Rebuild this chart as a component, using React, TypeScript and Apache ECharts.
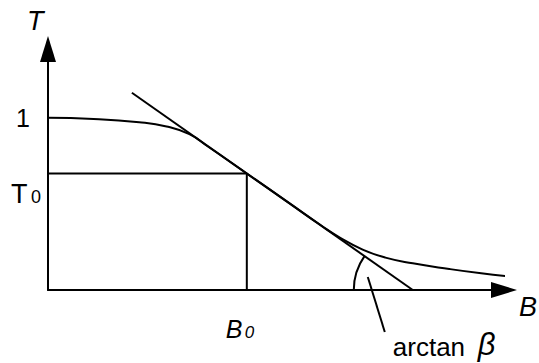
import React, { useEffect, useRef } from "react";
import * as echarts from "echarts";

// Transmission curve T(B), read along the B axis
const curveB = [0, 1.0, 2.0, 2.6, 3.1, 3.5, 4.36, 5.3, 6.0, 6.4, 6.9, 7.4, 8.0, 8.8, 9.5, 10.3];
const curveT = [1.0, 0.994, 0.975, 0.95, 0.905, 0.835, 0.677, 0.503, 0.373, 0.305, 0.235, 0.188, 0.155, 0.122, 0.097, 0.073];

// Operating point and the slope of the tangent drawn through it
const B0 = 4.36;
const T0 = 0.677;
const beta = 0.186;
const tangentStartB = 1.84;

const yTickValues = [1];

const FONT = "'Liberation Sans', Arial, Helvetica, sans-serif";
const INK = "#000";

export default function App() {
  const ref = useRef<HTMLDivElement>(null);

  useEffect(() => {
    if (!ref.current) return;
    const chart = echarts.init(ref.current, null, { renderer: "svg" });

    const curve = curveB.map((b, i) => [b, curveT[i]]);
    const tangentEndB = B0 + T0 / beta;
    const tangent = [
      [tangentStartB, T0 + beta * (B0 - tangentStartB)],
      [tangentEndB, 0],
    ];
    const guide = [
      [0, T0],
      [B0, T0],
      [B0, 0],
    ];

    const axisLine = {
      show: true,
      onZero: false,
      symbol: ["none", "triangle"],
      symbolSize: [16, 26],
      lineStyle: { color: INK, width: 2 },
    };

    chart.setOption({
      animation: false,
      backgroundColor: "#fff",
      grid: { left: 48, top: 49, right: 35, bottom: 73, containLabel: false, outerBoundsMode: "none" },
      xAxis: {
        type: "value",
        min: 0,
        max: 10,
        axisLine,
        axisTick: { show: false },
        axisLabel: { show: false },
        splitLine: { show: false },
      },
      yAxis: {
        type: "value",
        min: 0,
        max: 1.4,
        axisLine,
        axisTick: { show: false },
        axisLabel: {
          show: true,
          customValues: yTickValues,
          formatter: (v: number) => String(v),
          margin: 18,
          fontSize: 25,
          fontFamily: FONT,
          color: INK,
        },
        splitLine: { show: false },
      },
      series: [
        {
          type: "line",
          data: curve,
          showSymbol: false,
          smooth: 0.5,
          clip: false,
          lineStyle: { color: INK, width: 2 },
        },
        {
          type: "line",
          data: tangent,
          showSymbol: false,
          clip: false,
          lineStyle: { color: INK, width: 2 },
        },
        {
          type: "line",
          data: guide,
          showSymbol: false,
          clip: false,
          lineStyle: { color: INK, width: 2 },
        },
      ],
    });

    // Annotations placed from the axes' own pixel mapping
    const px = (b: number, t: number) => chart.convertToPixel({ gridIndex: 0 }, [b, t]) as number[];
    const origin = px(0, 0);
    const op = px(B0, T0);
    const tStart = px(tangent[0][0], tangent[0][1]);
    const tEnd = px(tangent[1][0], tangent[1][1]);
    const xEnd = px(10, 0);
    const angle = Math.atan2(tStart[1] - tEnd[1], tStart[0] - tEnd[0]);
    const arcR = 59;

    const text = (x: number, y: number, s: string, size: number, italic = false) => ({
      type: "text",
      x,
      y,
      silent: true,
      style: {
        text: s,
        fontSize: size,
        fontFamily: FONT,
        fontStyle: italic ? "italic" : "normal",
        fill: INK,
        align: "left",
        verticalAlign: "middle",
      },
    });

    chart.setOption({
      graphic: [
        text(origin[0] - 21, 21, "T", 27, true),
        text(origin[0] - 37, op[1] + 21, "T", 27),
        text(origin[0] - 17, op[1] + 24, "0", 18),
        text(op[0] - 21, origin[1] + 39, "B", 25, true),
        text(op[0] - 2, origin[1] + 42, "0", 17, true),
        text(xEnd[0] + 15, origin[1] + 17, "B", 27, true),
        text(tEnd[0] - 20, origin[1] + 57, "arctan", 26),
        text(tEnd[0] + 65, origin[1] + 54, "β", 31, true),
        {
          type: "arc",
          silent: true,
          shape: { cx: tEnd[0], cy: tEnd[1], r: arcR, startAngle: Math.PI, endAngle: angle < 0 ? angle + 2 * Math.PI : angle, clockwise: true },
          style: { stroke: INK, lineWidth: 2, fill: "none" },
        },
        {
          type: "line",
          silent: true,
          shape: { x1: tEnd[0] - 45, y1: tEnd[1] - 13, x2: tEnd[0] - 28, y2: tEnd[1] + 42 },
          style: { stroke: INK, lineWidth: 2 },
        },
      ],
    });

    return () => chart.dispose();
  }, []);

  return (
    <div
      ref={ref}
      style={{ position: "fixed", left: 0, top: 0, width: 539, height: 363, background: "#fff" }}
    />
  );
}
